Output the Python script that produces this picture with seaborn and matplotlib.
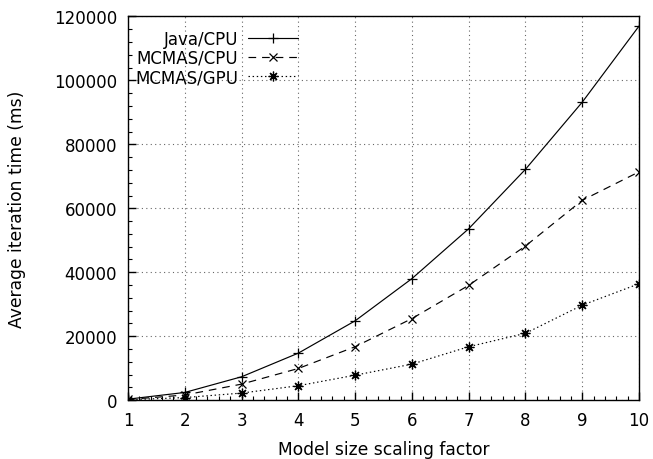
import matplotlib.pyplot as plt
import seaborn as sns
import pandas as pd
from matplotlib.ticker import MultipleLocator, AutoMinorLocator

# scaling factor de cada modelo
escala = [1, 2, 3, 4, 5, 6, 7, 8, 9, 10]

# tiempos medios por iteracion (ms)
java_cpu = [300, 2400, 7300, 14700, 24800, 38000, 53600, 72200, 93200, 117000]
mcmas_cpu = [200, 1600, 5000, 9900, 16700, 25500, 35900, 48200, 62500, 71400]
mcmas_gpu = [100, 800, 2200, 4500, 7800, 11250, 16700, 20900, 29700, 36400]

series = {
    'Java/CPU': (java_cpu, '-', '+', 7),
    'MCMAS/CPU': (mcmas_cpu, (0, (6.5, 5)), 'x', 6),
    'MCMAS/GPU': (mcmas_gpu, (0, (1.2, 2.3)), (8, 2, 0), 7),
}

sns.set_style("ticks")
plt.rcParams['font.family'] = ['DejaVu Sans']
plt.rcParams['text.color'] = 'black'
plt.rcParams['axes.labelcolor'] = 'black'
plt.rcParams['xtick.color'] = 'black'
plt.rcParams['ytick.color'] = 'black'

fig = plt.figure(figsize=(6.53, 4.60), dpi=100)
ax = fig.add_axes([0.196, 0.128, 0.7826, 0.834])

for nombre, (valores, estilo, marca, tam) in series.items():
    df = pd.DataFrame({'x': escala, 'y': valores})
    sns.lineplot(data=df, x='x', y='y', ax=ax, color='black', linewidth=0.85,
                 linestyle=estilo, marker=marca, markersize=tam,
                 markeredgewidth=0.9, markeredgecolor='black', label=nombre)

ax.set_xlim(1, 10)
ax.set_ylim(0, 120000)
ax.xaxis.set_major_locator(MultipleLocator(1))
ax.yaxis.set_major_locator(MultipleLocator(20000))
ax.xaxis.set_minor_locator(AutoMinorLocator(5))
ax.yaxis.set_minor_locator(AutoMinorLocator(5))
ax.tick_params(which='both', direction='in', top=False, right=False, labelsize=12,
               color='black', labelcolor='black')
ax.tick_params(which='major', length=6, width=1, pad=8)
ax.tick_params(which='minor', length=3, width=0.8)
ax.grid(True, which='major', linestyle=(0, (1, 3)), color='black', linewidth=0.8, alpha=0.6)

for s in ax.spines.values():
    s.set_visible(True)
    s.set_linewidth(1)
    s.set_color('black')

ax.set_xlabel('Model size scaling factor', fontsize=12.3, labelpad=8)
ax.set_ylabel('Average iteration time (ms)', fontsize=12.3, labelpad=20)

ley = ax.legend(loc='upper right', bbox_to_anchor=(0.333, 0.966), frameon=False,
                markerfirst=False, fontsize=12, handlelength=3.0,
                labelspacing=0.08, handletextpad=0.6, borderaxespad=0,
                borderpad=0)

plt.savefig('out.png', dpi=100)
plt.close()
